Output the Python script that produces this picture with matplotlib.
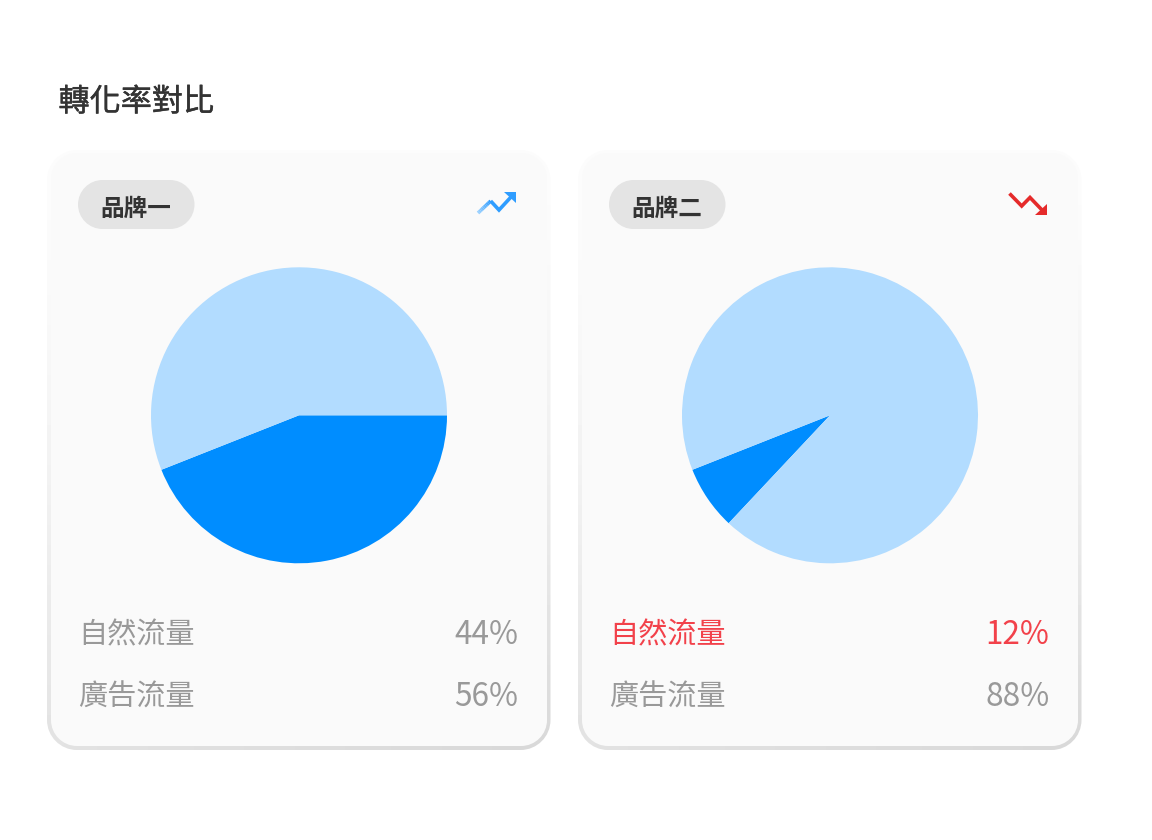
import numpy as np
import matplotlib
matplotlib.use("Agg")
import matplotlib.pyplot as plt
import matplotlib.patheffects as pe
from matplotlib.patches import PathPatch, Polygon
from matplotlib.path import Path

plt.rcParams['font.family'] = ['Noto Sans CJK TC', 'DejaVu Sans']

W, H = 1152, 840
title = "轉化率對比"
brands = ["品牌一", "品牌二"]
row_labels = ["自然流量", "廣告流量"]
label_pcts = [["44%", "56%"], ["12%", "88%"]]
slice_values = [[44, 56], [7, 93]]
highlight_first = [False, True]
trend_up = [True, False]

DARK, LIGHT = "#008dff", "#b2dcff"
GRAY, RED, INK = "#999999", "#f2414a", "#333333"

fig = plt.figure(figsize=(W / 100, H / 100), dpi=100, facecolor="white")
ax = fig.add_axes([0, 0, 1, 1])
ax.set_xlim(0, W)
ax.set_ylim(H, 0)
ax.axis("off")


def rrect(x0, y0, x1, y1, r, **kw):
    """Rounded rectangle with true circular corners."""
    k = r * (1 - 0.5523)
    verts = [(x0 + r, y0), (x1 - r, y0),
             (x1 - k, y0), (x1, y0 + k), (x1, y0 + r), (x1, y1 - r),
             (x1, y1 - k), (x1 - k, y1), (x1 - r, y1), (x0 + r, y1),
             (x0 + k, y1), (x0, y1 - k), (x0, y1 - r), (x0, y0 + r),
             (x0, y0 + k), (x0 + k, y0), (x0 + r, y0), (x0 + r, y0)]
    C3, L = Path.CURVE4, Path.LINETO
    codes = [Path.MOVETO, L, C3, C3, C3, L, C3, C3, C3, L, C3, C3, C3, L, C3, C3, C3, Path.CLOSEPOLY]
    return PathPatch(Path(verts, codes), **kw)


def gradient_line(xs, ys, start, end, lw):
    """First leg fades from a light tint to the icon colour."""
    s, e = np.array(matplotlib.colors.to_rgb(start)), np.array(matplotlib.colors.to_rgb(end))
    for t0 in np.linspace(0, 0.9, 10):
        t1 = t0 + 0.1
        ax.plot([xs[0] + (xs[1] - xs[0]) * t0, xs[0] + (xs[1] - xs[0]) * t1],
                [ys[0] + (ys[1] - ys[0]) * t0, ys[0] + (ys[1] - ys[0]) * t1],
                color=tuple(s + (e - s) * t1), lw=lw, solid_capstyle="butt", zorder=4)
    ax.plot(xs[1:], ys[1:], color=end, lw=lw, solid_joinstyle="miter", solid_capstyle="butt", zorder=4)


ax.text(58.5, 102.5, title, fontsize=22.4, color=INK, ha="left", va="center",
        path_effects=[pe.withStroke(linewidth=0.3, foreground=INK)])

for i, brand in enumerate(brands):
    dx = 531 * i
    yy, xx = np.mgrid[0:1:120j, 0:1:120j]
    shade = 252 - 36 * np.clip(yy, 0, 1) ** 1.5 * (0.72 + 0.28 * xx)
    outer = rrect(47 + dx, 150, 550.5 + dx, 750, 30, fc="none", ec="none")
    ax.add_patch(outer)
    im = ax.imshow(shade, cmap="gray", vmin=0, vmax=255, aspect="auto",
                   extent=(47 + dx, 551 + dx, 750, 150), zorder=1)
    im.set_clip_path(outer)
    ax.add_patch(rrect(51 + dx, 153, 547 + dx, 746, 26, fc="#fafafa", ec="none", zorder=2))

    ax.add_patch(rrect(78 + dx, 180, 194.5 + dx, 229, 24.5, fc="#e4e4e4", ec="none", zorder=3))
    ax.text(136 + dx, 208.5, brand, fontsize=17, color=INK, ha="center", va="center",
            weight="bold", zorder=4)

    if trend_up[i]:
        gradient_line([478, 490.7, 499, 511], [213, 201, 210, 197], "#a5d6ff", "#2f9dff", 2.6)
        ax.add_patch(Polygon([(504.3, 191.7), (516, 191.7), (516, 203.3)], fc="#2f9dff", ec="none", zorder=4))
    else:
        ax.plot([1009.5, 1021.7, 1030, 1042], [193.5, 206, 197.5, 210], color="#e52a2a",
                lw=2.6, solid_joinstyle="miter", solid_capstyle="butt", zorder=4)
        ax.add_patch(Polygon([(1046.7, 204), (1046.7, 215.3), (1035.3, 215.3)], fc="#e52a2a", ec="none", zorder=4))

    cx, cy, r = 299 + dx, 415.3, 148
    pie_ax = fig.add_axes([(cx - r) / W, 1 - (cy + r) / H, 2 * r / W, 2 * r / H], zorder=5)
    pie_ax.pie(slice_values[i], colors=[DARK, LIGHT], startangle=201.6, counterclock=True, radius=1,
               wedgeprops={"linewidth": 0})
    pie_ax.set_xlim(-1, 1)
    pie_ax.set_ylim(-1, 1)
    pie_ax.axis("off")

    for j, (lab, pct) in enumerate(zip(row_labels, label_pcts[i])):
        col = RED if (j == 0 and highlight_first[i]) else GRAY
        y = 635.5 + 62 * j
        ax.text(78 + dx, y, lab, fontsize=21, color=col, ha="left", va="center", zorder=4)
        ax.text(518.5 + dx, y - 0.5, pct, fontsize=22.7, color=col, ha="right", va="center", zorder=4)

ax.set_xlim(0, W)
ax.set_ylim(H, 0)
fig.savefig("out.png", dpi=100, facecolor="white")
